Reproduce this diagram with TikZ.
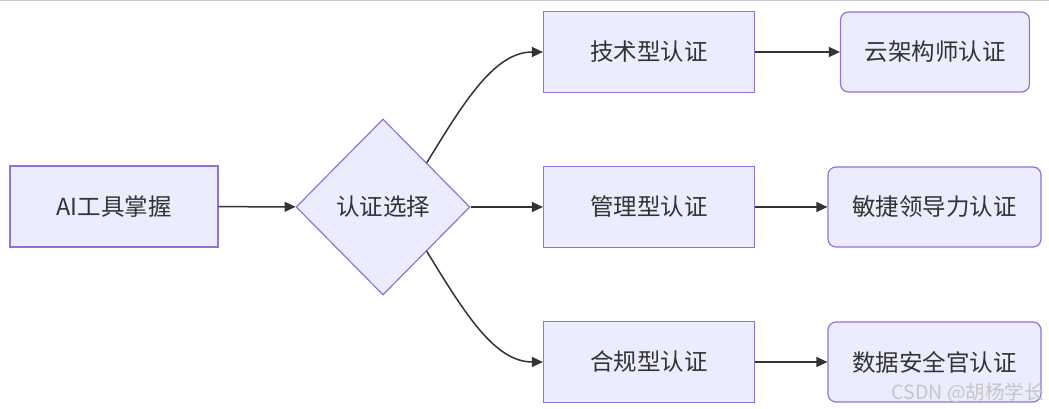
\documentclass[tikz,border=0pt]{standalone}
\usepackage{fontspec}
\setmainfont{Noto Sans CJK SC}
\usepackage{xcolor}
\usetikzlibrary{shapes.geometric,arrows.meta,positioning}
\definecolor{boxfill}{HTML}{ECECFF}
\definecolor{boxline}{HTML}{9370DB}
\definecolor{inkgray}{HTML}{333333}
\tikzset{
    stagebox/.style={draw=boxline, fill=boxfill, line width=1.2pt, text=inkgray,
        minimum height=81pt, inner sep=0pt, font=\fontsize{23.5}{27}\selectfont},
    certbox/.style={stagebox, rounded corners=8pt, minimum height=80pt},
    choice/.style={stagebox, diamond, minimum width=174pt, minimum height=176pt},
    link/.style={->, draw=inkgray, line width=1.5pt}
}
\begin{document}
\begin{tikzpicture}[x=1pt, y=-1pt, >={Triangle[length=11pt,width=10pt]}]
    \useasboundingbox (0,0) rectangle (1049,409);
    \fill[white] (0,0) rectangle (1049,409);
    \draw[gray!40, line width=1.2pt] (0,0.6) -- (1049,0.6);

    % start and choice
    \node[stagebox, minimum width=208pt] (tool) at (114,206.5) {AI工具掌握};
    \node[choice] (pick) at (383,207) {认证选择};

    % three kinds of certificate
    \node[stagebox, minimum width=211pt] (tech) at (649,52) {技术型认证};
    \node[stagebox, minimum width=211pt] (mgmt) at (649,207) {管理型认证};
    \node[stagebox, minimum width=211pt] (comp) at (649,362) {合规型认证};

    % concrete certificates
    \node[certbox, minimum width=189pt] (cloud) at (935,52) {云架构师认证};
    \node[certbox, minimum width=213pt] (agile) at (934.5,207) {敏捷领导力认证};
    \node[certbox, minimum width=213pt] (data) at (934.5,362) {数据安全官认证};

    \draw[link] (tool) -- (pick);
    \draw[link] (pick) -- (mgmt);
    \draw[link] (pick.north east) .. controls (465,100) and (495,52) .. (tech.west);
    \draw[link] (pick.south east) .. controls (465,314) and (495,362) .. (comp.west);
    \draw[link] (tech) -- (cloud);
    \draw[link] (mgmt) -- (agile);
    \draw[link] (comp) -- (data);

    \node[text=gray!45, font=\fontsize{19.5}{22}\selectfont, anchor=east, inner sep=0pt]
        (mark) at (1044,393) {CSDN @胡杨学长};
\end{tikzpicture}
\end{document}
